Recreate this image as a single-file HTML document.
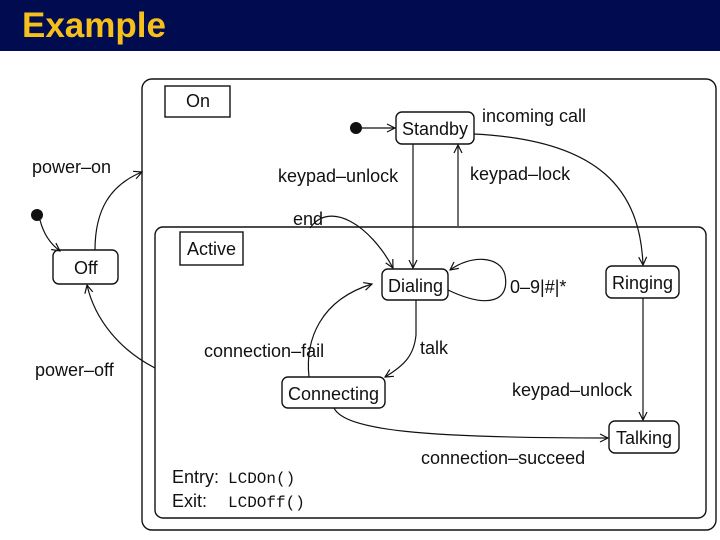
<!DOCTYPE html>
<html><head><meta charset="utf-8"><style>
body{margin:0;width:720px;height:540px;overflow:hidden;background:#fff;font-family:"Liberation Sans",sans-serif}
.hdr{position:absolute;left:0;top:0;width:720px;height:51px;background:#000c4f}
.hdr span{position:absolute;left:22px;top:6px;font-size:35px;font-weight:bold;color:#f5bf1c}
svg{position:absolute;left:0;top:0}
text{font-family:"Liberation Sans",sans-serif;font-size:18px;fill:#111}
.m{font-family:"Liberation Mono",monospace;font-size:16px}
</style></head><body>
<div class="hdr"><span>Example</span></div>
<svg width="720" height="540" viewBox="0 0 720 540">
<defs><marker id="a" markerWidth="10" markerHeight="10" refX="9" refY="5" orient="auto" markerUnits="userSpaceOnUse"><path d="M1,1 L9,5 L1,9" fill="none" stroke="#111" stroke-width="1.2"/></marker></defs>
<g fill="none" stroke="#111" stroke-width="1.4">
<rect x="142" y="79" width="574" height="451" rx="10"/>
<rect x="165" y="86" width="65" height="31"/>
<rect x="155" y="227" width="551" height="291" rx="8"/>
<rect x="180" y="232" width="63" height="33"/>
<rect x="396" y="112" width="78" height="32" rx="6"/>
<rect x="382" y="269" width="66" height="31" rx="6"/>
<rect x="606" y="266" width="73" height="32" rx="6"/>
<rect x="282" y="377" width="103" height="31" rx="6"/>
<rect x="609" y="421" width="70" height="32" rx="6"/>
<rect x="53" y="250" width="65" height="34" rx="6"/>
</g>
<circle cx="356" cy="128" r="6" fill="#111"/>
<circle cx="37" cy="215" r="6" fill="#111"/>
<g fill="none" stroke="#111" stroke-width="1.2" marker-end="url(#a)">
<path d="M362,128 L395,128"/>
<path d="M40,220 Q45,240 60,251"/>
<path d="M474,134 C600,140 640,190 643,265"/>
<path d="M413,144 L413,268"/>
<path d="M458,226 L458,145"/>
<path d="M310,228 C330,200 370,225 393,268"/>
<path d="M448,290 C490,310 510,300 505,275 C500,255 470,255 450,270"/>
<path d="M309,377 C305,340 320,300 372,284"/>
<path d="M416,300 L416,335 C414,355 405,365 385,377"/>
<path d="M643,298 L643,420"/>
<path d="M334,408 C345,430 420,438 608,438"/>
<path d="M95,250 C95,210 110,185 142,172"/>
<path d="M155,368 C120,350 95,320 87,285"/>
</g>
<text x="186" y="107">On</text>
<text x="187" y="255">Active</text>
<text x="402" y="135">Standby</text>
<text x="388" y="292">Dialing</text>
<text x="612" y="289">Ringing</text>
<text x="288" y="400">Connecting</text>
<text x="616" y="444">Talking</text>
<text x="74" y="274">Off</text>
<text x="482" y="122">incoming call</text>
<text x="278" y="182">keypad–unlock</text>
<text x="470" y="180">keypad–lock</text>
<text x="293" y="225">end</text>
<text x="510" y="293">0–9|#|*</text>
<text x="204" y="357">connection–fail</text>
<text x="420" y="354">talk</text>
<text x="512" y="396">keypad–unlock</text>
<text x="421" y="464">connection–succeed</text>
<text x="32" y="173">power–on</text>
<text x="35" y="376">power–off</text>
<text x="172" y="483">Entry:</text><text x="228" y="483" class="m">LCDOn()</text>
<text x="172" y="507">Exit:</text><text x="228" y="507" class="m">LCDOff()</text>
</svg>
</body></html>
